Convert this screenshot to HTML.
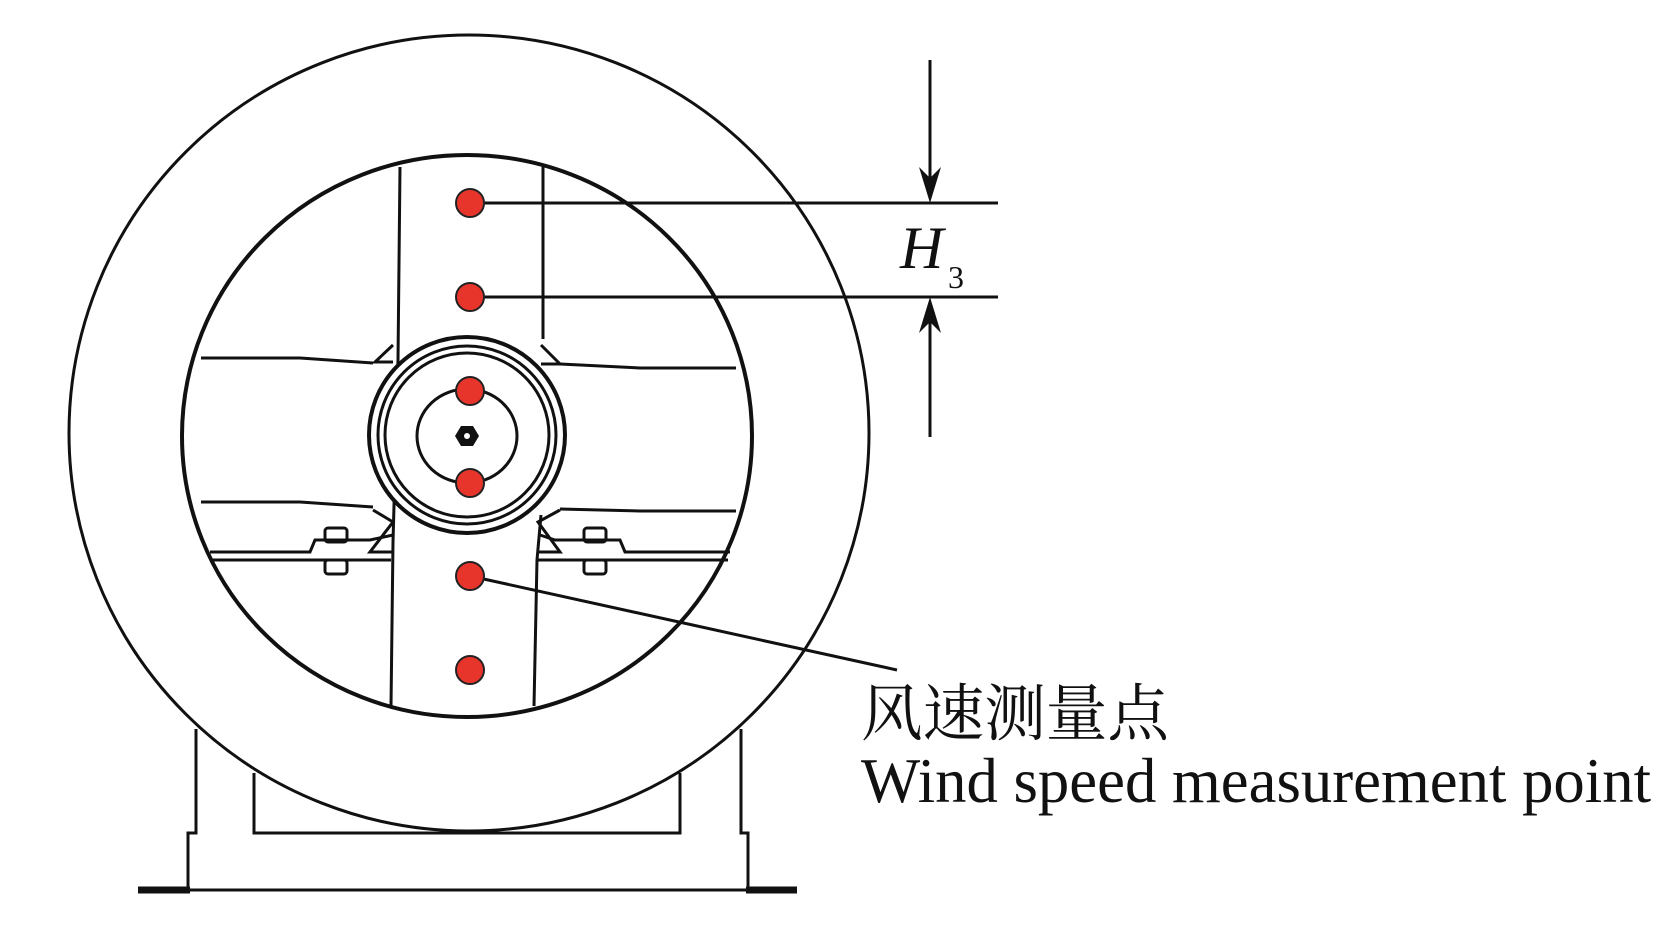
<!DOCTYPE html>
<html><head><meta charset="utf-8"><style>html,body{margin:0;padding:0;background:#fff}svg{display:block}</style></head>
<body>
<svg width="1654" height="934" viewBox="0 0 1654 934" xmlns="http://www.w3.org/2000/svg">
<g fill="none" stroke="#111" stroke-width="3">
<!-- base -->
<polyline points="196,729 196,833 188,833 188,890"/>
<polyline points="741,729 741,833 748,833 748,890"/>
<polyline points="254,773 254,833 680,833 680,773"/>
<line x1="188" y1="890" x2="748" y2="890"/>
<line x1="138" y1="890" x2="190" y2="890" stroke-width="7"/>
<line x1="746" y1="890" x2="797" y2="890" stroke-width="7"/>
</g>
<!-- outer casing -->
<ellipse cx="469" cy="433" rx="400" ry="398" fill="#fff" stroke="#111" stroke-width="3"/>
<g fill="none" stroke="#111" stroke-width="3">
<ellipse cx="467" cy="436" rx="285" ry="281" stroke-width="4"/>
<!-- vertical strut -->
<polyline points="400,167 398,360 393,542 391,706"/>
<polyline points="543,167 543,339"/>
<polyline points="541,515 537,560 534,706"/>
<!-- horizontal struts -->
<polyline points="201,358 300,358 373,363"/>
<polyline points="560,364 640,368 736,368"/>
<polyline points="201,502 300,502 373,507"/>
<polyline points="560,509 640,511 736,511"/>
<polyline points="210,552 310,552 315,540 370,540 393,535"/>
<polyline points="540,535 555,540 620,540 625,552 730,552"/>
<polyline points="210,560 391,560"/>
<polyline points="537,560 728,560"/>
<!-- gussets -->
<polyline points="393,345 375,362 393,362"/>
<polyline points="541,345 560,364 541,364"/>
<polyline points="373,510 393,522 370,552 393,552"/>
<polyline points="560,510 538,522 560,552 537,552"/>
<!-- bolts -->
<rect x="325" y="528" width="22" height="14" rx="3"/>
<rect x="325" y="560" width="22" height="14" rx="3"/>
<rect x="584" y="528" width="22" height="14" rx="3"/>
<rect x="584" y="560" width="22" height="14" rx="3"/>
</g>
<!-- hub -->
<circle cx="467" cy="435" r="98" fill="#fff" stroke="#111" stroke-width="4"/>
<circle cx="467" cy="435" r="89" fill="none" stroke="#111" stroke-width="3"/>
<circle cx="467" cy="435" r="82" fill="none" stroke="#111" stroke-width="3"/>
<ellipse cx="467" cy="436" rx="50" ry="47" fill="none" stroke="#111" stroke-width="3"/>
<polygon points="455,436 461,426 473,426 479,436 473,446 461,446" fill="#111"/>
<circle cx="467" cy="436" r="3" fill="#fff"/>
<!-- dimension -->
<g stroke="#111" stroke-width="3" fill="none">
<line x1="470" y1="203" x2="998" y2="203"/>
<line x1="470" y1="297" x2="998" y2="297"/>
<line x1="930" y1="60" x2="930" y2="190"/>
<line x1="930" y1="310" x2="930" y2="437"/>
<line x1="470" y1="576" x2="897" y2="670"/>
</g>
<polygon points="930,203 919,167 930,178 941,167" fill="#111"/>
<polygon points="930,297 919,333 930,322 941,333" fill="#111"/>
<!-- dots -->
<g fill="#e8352c" stroke="#222" stroke-width="2">
<circle cx="470" cy="203" r="14"/>
<circle cx="470" cy="297" r="14"/>
<circle cx="470" cy="391" r="14"/>
<circle cx="470" cy="483" r="14"/>
<circle cx="470" cy="576" r="14"/>
<circle cx="470" cy="670" r="14"/>
</g>
<text x="900" y="268" font-family="Liberation Serif, serif" font-style="italic" font-size="60" fill="#111">H</text>
<text x="948" y="288" font-family="Liberation Serif, serif" font-size="32" fill="#111">3</text>
<text x="861" y="735" font-family="'Liberation Serif','Noto Serif CJK SC',serif" font-size="62" textLength="308" lengthAdjust="spacingAndGlyphs" fill="#111">风速测量点</text>
<text x="861" y="802" font-family="Liberation Serif, serif" font-size="63" textLength="790" lengthAdjust="spacingAndGlyphs" fill="#111">Wind speed measurement point</text>
</svg>
</body></html>
